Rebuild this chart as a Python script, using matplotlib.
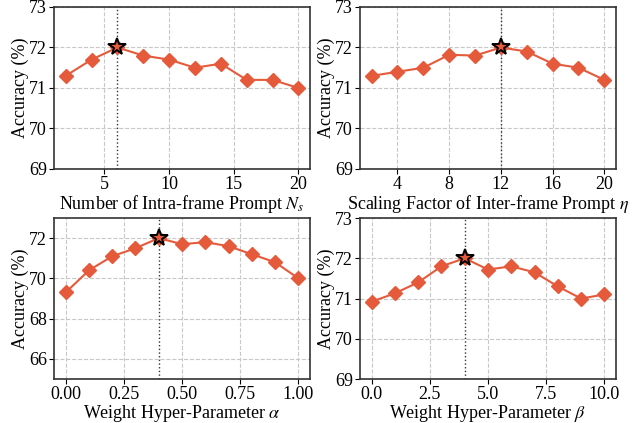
import numpy as np
from matplotlib import pyplot as plt

plt.rcParams['font.family'] = ['Liberation Serif', 'DejaVu Serif']
plt.rcParams['mathtext.fontset'] = 'stix'

# datos
ns_x = [2, 4, 6, 8, 10, 12, 14, 16, 18, 20]
ns_acc = [71.3, 71.7, 72.0, 71.8, 71.7, 71.5, 71.6, 71.2, 71.2, 71.0]

eta_x = [2, 4, 6, 8, 10, 12, 14, 16, 18, 20]
eta_acc = [71.3, 71.4, 71.5, 71.82, 71.8, 72.0, 71.9, 71.6, 71.5, 71.2]

alpha_x = [0.0, 0.1, 0.2, 0.3, 0.4, 0.5, 0.6, 0.7, 0.8, 0.9, 1.0]
alpha_acc = [69.3, 70.4, 71.1, 71.5, 72.0, 71.7, 71.8, 71.6, 71.2, 70.8, 70.0]

beta_x = [0, 1, 2, 3, 4, 5, 6, 7, 8, 9, 10]
beta_acc = [70.92, 71.13, 71.4, 71.8, 72.0, 71.72, 71.8, 71.65, 71.3, 71.0, 71.1]

color = '#E65A3C'


def panel(ax, x, y, best, xlabel, ylim, yticks, xticks):
    ax.plot(x, y, color=color, marker='D', markersize=7, linewidth=1.5, zorder=3)
    i = x.index(best)
    ax.plot([x[i]], [y[i]], marker='*', markersize=13, color=color,
            markeredgecolor='black', markeredgewidth=1.4, linestyle='none', zorder=4)
    ax.axvline(best, color='#333333', linestyle=':', linewidth=1, zorder=2)
    ax.grid(True, linestyle='--', color='#c8c8c8', linewidth=0.8, zorder=0)
    ax.set_axisbelow(True)
    ax.set_ylim(*ylim)
    ax.set_yticks(yticks)
    ax.set_xticks(xticks)
    ax.set_xlabel(xlabel, fontsize=13, labelpad=0)
    ax.set_ylabel('Accuracy (%)', fontsize=13, labelpad=0)
    ax.tick_params(labelsize=13, length=3.5, pad=1.5)
    for s in ax.spines.values():
        s.set_color('#333333')
        s.set_linewidth(1.2)


fig = plt.figure(figsize=(6.44, 4.23), dpi=100)
ax1 = fig.add_axes([0.0839, 0.6005, 0.3975, 0.383])
ax2 = fig.add_axes([0.559, 0.6005, 0.3975, 0.383])
ax3 = fig.add_axes([0.0839, 0.104, 0.3975, 0.3806])
ax4 = fig.add_axes([0.559, 0.104, 0.3975, 0.3806])

panel(ax1, ns_x, ns_acc, 6, r'Number of Intra-frame Prompt $N_s$',
      (69, 73), [69, 70, 71, 72, 73], [5, 10, 15, 20])
panel(ax2, eta_x, eta_acc, 12, r'Scaling Factor of Inter-frame Prompt $\eta$',
      (69, 73), [69, 70, 71, 72, 73], [4, 8, 12, 16, 20])
panel(ax3, alpha_x, alpha_acc, 0.4, r'Weight Hyper-Parameter $\alpha$',
      (65, 73), [66, 68, 70, 72], [0.0, 0.25, 0.5, 0.75, 1.0])
ax3.set_xticklabels(['0.00', '0.25', '0.50', '0.75', '1.00'])
panel(ax4, beta_x, beta_acc, 4, r'Weight Hyper-Parameter $\beta$',
      (69, 73), [69, 70, 71, 72, 73], [0, 2.5, 5, 7.5, 10])
ax4.set_xticklabels(['0.0', '2.5', '5.0', '7.5', '10.0'])

fig.savefig('out.png', dpi=100)
